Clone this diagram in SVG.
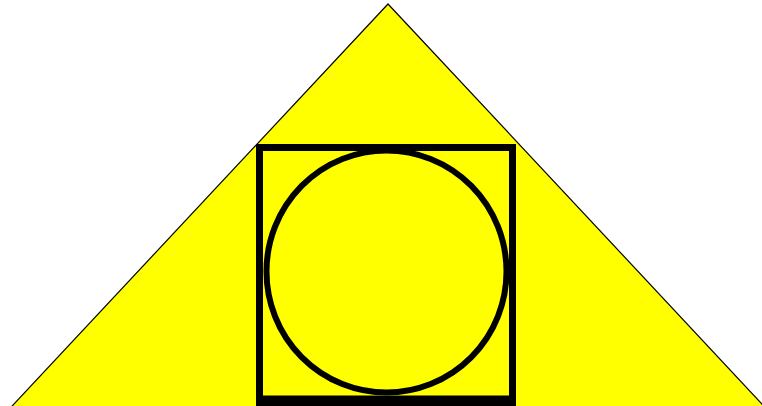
<svg xmlns="http://www.w3.org/2000/svg" width="762" height="406" viewBox="0 0 762 406">
<style>
.shape{fill:#ffff00;stroke:#000;}
.edge{fill:none;stroke:#000;}
</style>
<rect width="762" height="406" fill="#fff"/>
<g id="triangle"><polygon class="shape" points="388,4 805,450 -29,450" stroke-width="1.2" stroke="#333"/></g>
<g id="square"><rect class="shape" x="259.5" y="147.5" width="253" height="254" stroke-width="7"/><line class="edge" x1="256" y1="401" x2="516" y2="401" stroke-width="11"/></g>
<g id="circle"><ellipse class="shape" cx="386.5" cy="271.5" rx="120" ry="121" stroke-width="6"/></g>
<g id="connectors"/>
</svg>
